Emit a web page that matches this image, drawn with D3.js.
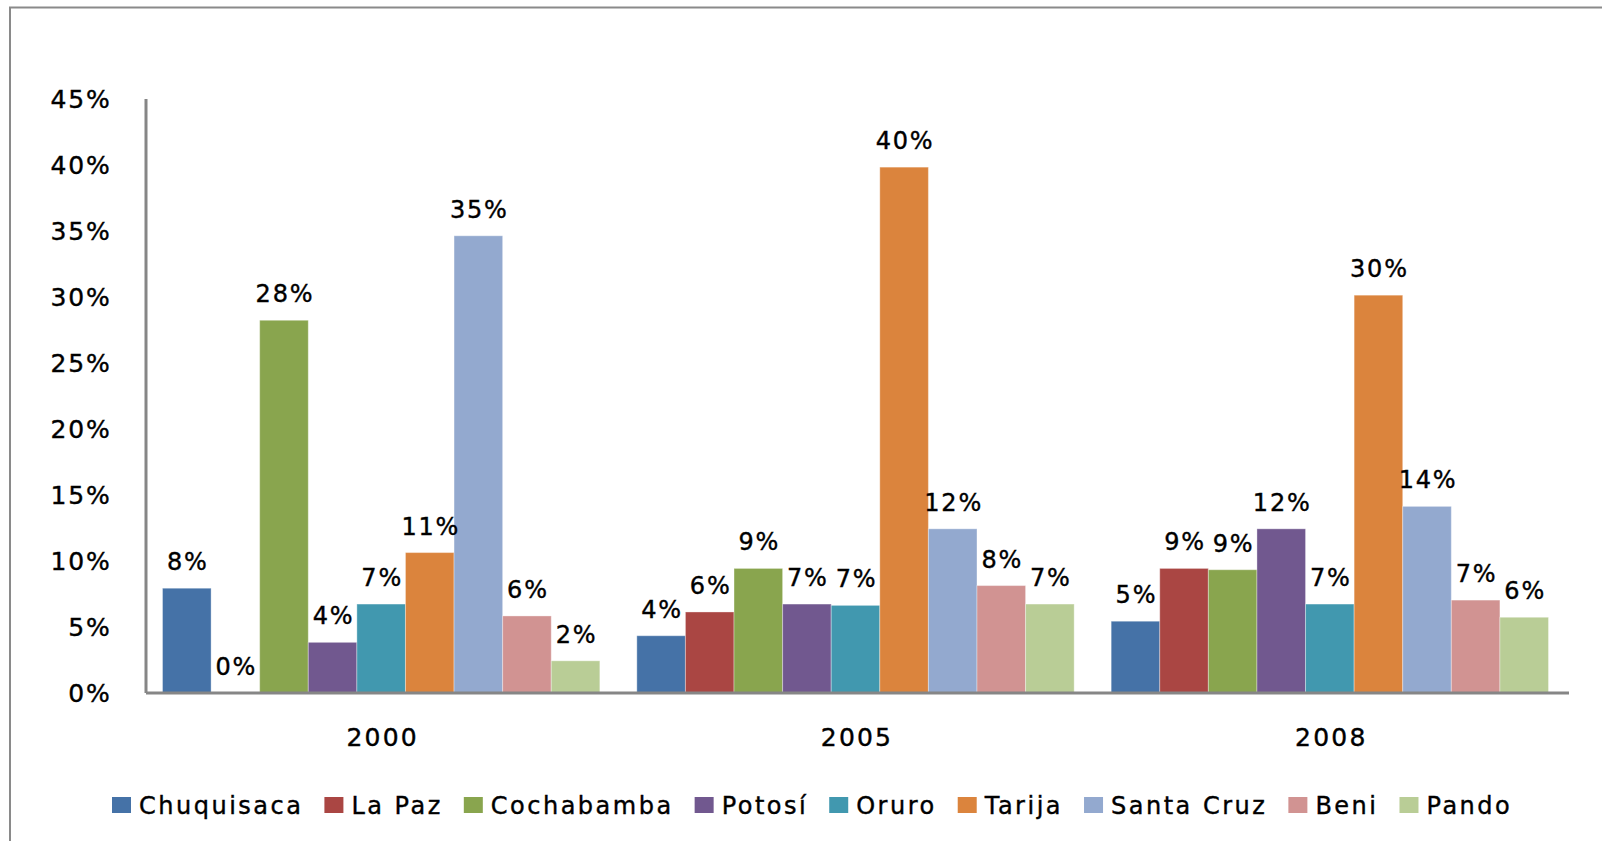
<!DOCTYPE html>
<html>
<head>
<meta charset="utf-8">
<script src="https://cdn.jsdelivr.net/npm/d3@7"></script>
<style>
  html, body { margin: 0; padding: 0; background: #fff; }
  svg { display: block; }
  text { font-family: "DejaVu Sans", Verdana, sans-serif; fill: #000; stroke: #000; stroke-width: 0.4px; }
</style>
</head>
<body>
<svg id="chart" width="1602" height="841"></svg>
<script>
const years = ["2000", "2005", "2008"];
const departments = ["Chuquisaca", "La Paz", "Cochabamba", "Potosí", "Oruro", "Tarija", "Santa Cruz", "Beni", "Pando"];
const colors = ["#4572A7", "#AA4643", "#89A54E", "#71588F", "#4198AF", "#DB843D", "#93A9CF", "#D19392", "#B9CD96"];
// share per department, one array per year (fractions)
const values2000 = [0.079, 0.000, 0.282, 0.038, 0.067, 0.106, 0.346, 0.058, 0.024];
const values2005 = [0.043, 0.061, 0.094, 0.067, 0.066, 0.398, 0.124, 0.081, 0.067];
const values2008 = [0.054, 0.094, 0.093, 0.124, 0.067, 0.301, 0.141, 0.070, 0.057];
const yTicks = [0, 0.05, 0.10, 0.15, 0.20, 0.25, 0.30, 0.35, 0.40, 0.45];

const valuesByYear = [values2000, values2005, values2008];
const data = years.map((yr, i) => ({ year: yr, vals: departments.map((d, j) => ({ dept: d, value: valuesByYear[i][j], color: colors[j] })) }));

const svg = d3.select("#chart");
const fmt = d3.format(".0%");

// outer frame
svg.append("rect").attr("x", 10).attr("y", 7.5).attr("width", 1620).attr("height", 860)
  .attr("fill", "none").attr("stroke", "#8a8a8a").attr("stroke-width", 2);

const plotLeft = 145.5, plotRight = 1568.5, plotTop = 98.5, plotBottom = 692.5;
const x0 = d3.scaleBand().domain(years).range([plotLeft, plotRight]).padding(0);
const x1 = d3.scaleBand().domain(departments).range([17, x0.bandwidth() - 20]).padding(0);
const y = d3.scaleLinear().domain([0, 0.45]).range([plotBottom, plotTop]);

// bars
const groups = svg.append("g").selectAll("g").data(data).join("g")
  .attr("transform", d => `translate(${x0(d.year)},0)`);

groups.selectAll("rect").data(d => d.vals).join("rect")
  .attr("x", d => x1(d.dept))
  .attr("y", d => y(d.value))
  .attr("width", x1.bandwidth())
  .attr("height", d => plotBottom - y(d.value))
  .attr("fill", d => d.color)
  .attr("stroke", "rgba(255,255,255,0.35)")
  .attr("stroke-width", 1);

groups.selectAll("text.lbl").data(d => d.vals).join("text")
  .attr("class", "lbl")
  .attr("x", d => x1(d.dept) + x1.bandwidth() / 2 + 1)
  .attr("y", d => y(d.value) - 18)
  .attr("text-anchor", "middle")
  .style("font-size", "24px")
  .style("letter-spacing", "1.8px")
  .text(d => fmt(d.value));

// y axis
const yAxis = d3.axisLeft(y).tickValues(yTicks).tickFormat(fmt).tickSize(0).tickPadding(34);
const gy = svg.append("g").attr("transform", `translate(${plotLeft},0)`).call(yAxis);
gy.select(".domain").attr("stroke", "#868686").attr("stroke-width", 3);
gy.selectAll("text").style("font-size", "25px").style("letter-spacing", "1.8px")
  .attr("font-family", null).attr("dy", "0.36em");

// x axis
const xAxis = d3.axisBottom(x0).tickSize(0).tickPadding(36);
const gx = svg.append("g").attr("transform", `translate(0,${plotBottom})`).call(xAxis);
gx.select(".domain").attr("stroke", "#868686").attr("stroke-width", 3);
gx.selectAll("text").style("font-size", "25px").style("letter-spacing", "2.2px")
  .attr("font-family", null);

// legend
const legend = svg.append("g").attr("transform", "translate(112,0)");
let lx = 0;
departments.forEach((d, i) => {
  const g = legend.append("g").attr("transform", `translate(${lx},0)`);
  g.append("rect").attr("x", 0).attr("y", 797).attr("width", 19).attr("height", 16).attr("fill", colors[i]);
  const t = g.append("text").attr("x", 27).attr("y", 813.5)
    .style("font-size", "24px").style("letter-spacing", "2.5px").text(d);
  const w = t.node().getComputedTextLength();
  lx += 27 + w + 21;
});
</script>
</body>
</html>
